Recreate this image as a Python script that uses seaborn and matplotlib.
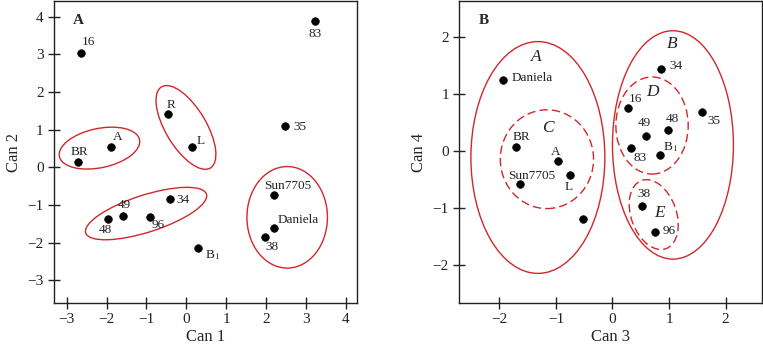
import matplotlib
matplotlib.use("Agg")
import matplotlib.pyplot as plt
import seaborn as sns
import pandas as pd
from matplotlib.patches import Ellipse

sns.set_style("ticks")
plt.rcParams['font.family'] = ['Liberation Serif', 'DejaVu Serif']
plt.rcParams['mathtext.fontset'] = 'stix'

# Panel A: canonical scores, Can 1 vs Can 2
labels_a = ['16', '83', 'R', 'L', '35', 'A', 'BR', '34', '49', '48', '96',
            'B$_1$', 'Sun7705', 'Daniela', '38']
can1 = [-2.64, 3.24, -0.45, 0.14, 2.48, -1.90, -2.72, -0.41, -1.60, -1.97,
        -0.90, 0.29, 2.19, 2.19, 1.97]
can2 = [3.05, 3.88, 1.42, 0.53, 1.11, 0.53, 0.15, -0.83, -1.30, -1.37,
        -1.32, -2.15, -0.73, -1.62, -1.86]

# Panel B: Can 3 vs Can 4
labels_b = ['Daniela', 'BR', 'A', 'L', 'Sun7705', '', '34', '16', '35', '49',
            '48', '83', 'B$_1$', '38', '96']
can3 = [-1.93, -1.70, -0.96, -0.75, -1.64, -0.52, 0.86, 0.28, 1.59, 0.60,
        0.98, 0.33, 0.84, 0.53, 0.76]
can4 = [1.25, 0.07, -0.18, -0.42, -0.57, -1.19, 1.44, 0.76, 0.69, 0.26,
        0.37, 0.06, -0.07, -0.96, -1.41]

# label offsets in pixels (dx, dy)
offs_a = [(7, 11), (0, -13), (3, 9), (9, 6), (15, -1), (7, 10), (1, 10),
          (13, -1), (2, 11), (-2, -11), (8, -8), (14, -7), (14, 9), (25, 8),
          (7, -10)]
offs_b = [(29, 2), (5, 10), (-3, 9), (-1, -12), (12, 8), (0, 0), (15, 3),
          (7, 9), (12, -9), (-2, 13), (5, 11), (9, -10), (10, 8), (2, 12),
          (14, 1)]

# group ellipses: cx, cy, width, height, angle, dashed
ell_a = [(-2.18, 0.51, 2.06, 1.04, 13, False),
         (-0.01, 1.06, 2.48, 1.03, -61, False),
         (-1.01, -1.23, 3.2, 0.98, 19, False),
         (2.53, -1.33, 2.02, 2.7, 0, False)]
ell_b = [(-1.32, -0.11, 2.37, 4.06, 0, False),
         (1.07, 0.11, 2.14, 4.0, 0, False),
         (-1.16, -0.14, 1.65, 1.73, 0, True),
         (0.70, 0.45, 1.28, 1.70, 0, True),
         (0.73, -1.11, 1.27, 0.80, 110, True)]
group_names = ['A', 'B', 'C', 'D', 'E']
group_x = [-1.34, 1.05, -1.15, 0.70, 0.83]
group_y = [1.65, 1.88, 0.40, 1.03, -1.08]

red = '#d3262b'

fig = plt.figure(figsize=(7.63, 3.52), dpi=100)
ax1 = fig.add_axes([0.0708, 0.139, 0.397, 0.858])
ax2 = fig.add_axes([0.602, 0.139, 0.397, 0.858])

df_a = pd.DataFrame({'Can 1': can1, 'Can 2': can2})
df_b = pd.DataFrame({'Can 3': can3, 'Can 4': can4})
sns.scatterplot(data=df_a, x='Can 1', y='Can 2', ax=ax1, color='black',
                s=30, edgecolor='black', linewidth=0.5, zorder=3)
sns.scatterplot(data=df_b, x='Can 3', y='Can 4', ax=ax2, color='black',
                s=30, edgecolor='black', linewidth=0.5, zorder=3)

for ax, xs, ys, labs, offs in [(ax1, can1, can2, labels_a, offs_a),
                               (ax2, can3, can4, labels_b, offs_b)]:
    for x, y, lab, (dx, dy) in zip(xs, ys, labs, offs):
        if lab:
            ax.annotate(lab, (x, y), xytext=(dx, dy), textcoords='offset pixels',
                        ha='center', va='center', fontsize=9.5, color='#222222')

for ax, ells in [(ax1, ell_a), (ax2, ell_b)]:
    for cx, cy, w, h, ang, dashed in ells:
        e = Ellipse((cx, cy), w, h, angle=ang, fill=False, edgecolor=red,
                    linewidth=1.0, linestyle=(0, (6, 3)) if dashed else '-')
        ax.add_patch(e)

for name, gx, gy in zip(group_names, group_x, group_y):
    ax2.text(gx, gy, name, fontsize=12.5, style='italic', ha='center',
             va='center', color='#222222')

ax1.set_xlim(-3.32, 4.28)
ax1.set_ylim(-3.61, 4.42)
ax1.set_xticks(range(-3, 5))
ax1.set_yticks(range(-3, 5))
ax2.set_xlim(-2.71, 2.65)
ax2.set_ylim(-2.66, 2.63)
ax2.set_xticks(range(-2, 3))
ax2.set_yticks(range(-2, 3))

for ax, tag in [(ax1, 'A'), (ax2, 'B')]:
    ax.text(0.08, 0.935, tag, transform=ax.transAxes, fontsize=11,
            fontweight='bold', ha='center', va='center')
    for sp in ax.spines.values():
        sp.set_visible(True)
        sp.set_linewidth(1.0)
        sp.set_color('#222222')
    ax.tick_params(direction='inout', length=8, width=1.0, labelsize=11,
                   colors='#222222')
    ax.xaxis.label.set_size(12)
    ax.yaxis.label.set_size(12)
    ax.xaxis.labelpad = 2
    ax.yaxis.labelpad = 4

fig.savefig('out.png', dpi=100)
